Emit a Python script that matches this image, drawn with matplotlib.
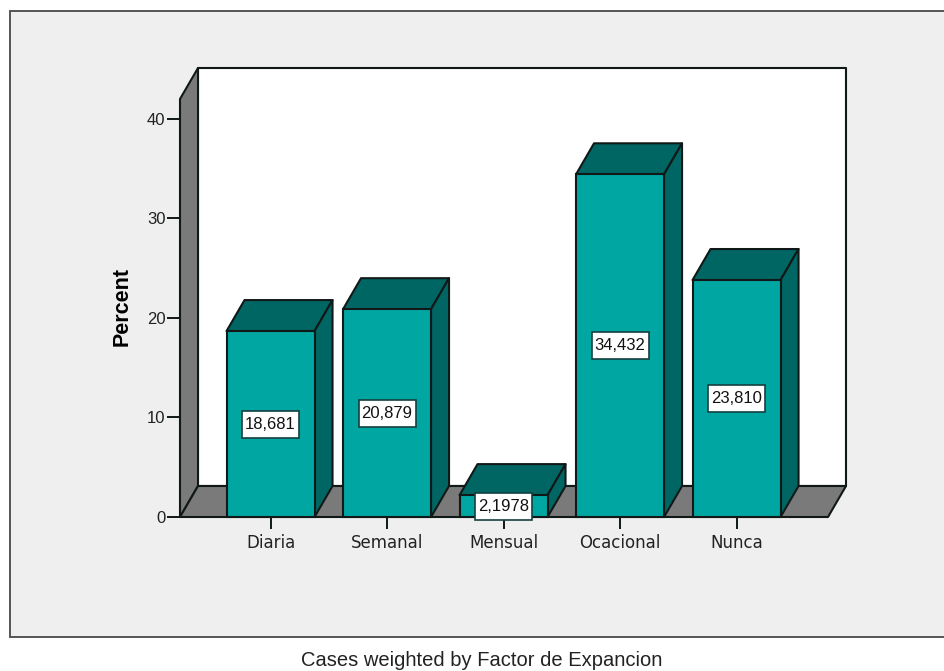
import matplotlib
matplotlib.use('Agg')
import matplotlib.pyplot as plt
from matplotlib.patches import Polygon, Rectangle

categories = ['Diaria', 'Semanal', 'Mensual', 'Ocacional', 'Nunca']
percents = [18.681, 20.879, 2.1978, 34.432, 23.810]
value_labels = ['18,681', '20,879', '2,1978', '34,432', '23,810']
y_ticks = [0, 10, 20, 30, 40]

W, H = 945, 671
FACE = '#00a6a2'
DARK = '#006663'
GREY = '#7a7a7a'
EDGE = '#101818'

plt.rcParams['font.family'] = ['Liberation Sans', 'DejaVu Sans']
fig = plt.figure(figsize=(W / 100, H / 100), dpi=100, facecolor='white')

# chart frame, kept behind the axes
fig.add_artist(Rectangle((10 / W, 1 - 637 / H), 940 / W, 626 / H,
                         transform=fig.transFigure, facecolor='#efefef',
                         edgecolor='#555555', linewidth=1.4, zorder=-1))

# front plane of the 3d box: 180..828 px wide, 99..517 px tall
ax = fig.add_axes([180 / W, 1 - 517 / H, 648 / W, 418 / H])
ax.set_xlim(-0.777, 4.785)
ax.set_ylim(0, 42)
ax.patch.set_visible(False)
for s in ax.spines.values():
    s.set_visible(False)

# depth of the box, in data units
dx = 18 / 116.5
dy = 31 / 9.95
x0, x1 = ax.get_xlim()
y0, y1 = ax.get_ylim()


def poly(pts, color, z):
    ax.add_patch(Polygon(pts, closed=True, facecolor=color, edgecolor=EDGE,
                         linewidth=1.5, joinstyle='round', zorder=z, clip_on=False))


# back wall, side wall, floor
poly([(x0 + dx, y0 + dy), (x1 + dx, y0 + dy), (x1 + dx, y1 + dy), (x0 + dx, y1 + dy)], 'white', 1)
poly([(x0, y0), (x0 + dx, y0 + dy), (x0 + dx, y1 + dy), (x0, y1)], GREY, 2)
poly([(x0, y0), (x0 + dx, y0 + dy), (x1 + dx, y0 + dy), (x1, y0)], GREY, 2)

bar_w = 88 / 116.5
box_w = 57 / 116.5
box_h = 27 / 9.95
for i, v in enumerate(percents):
    l, r = i - bar_w / 2, i + bar_w / 2
    ax.bar(i, v, width=bar_w, color=FACE, edgecolor=EDGE, linewidth=1.5, zorder=5, clip_on=False)
    poly([(l, v), (l + dx, v + dy), (r + dx, v + dy), (r, v)], DARK, 4)
    poly([(r, 0), (r + dx, dy), (r + dx, v + dy), (r, v)], DARK, 4)
    # value tag in the middle of the bar
    ax.add_patch(Rectangle((i - box_w / 2, v / 2 - box_h / 2), box_w, box_h, facecolor='white',
                           edgecolor='#14403f', linewidth=1.2, zorder=7, clip_on=False))
    ax.text(i, v / 2, value_labels[i], ha='center', va='center', fontsize=12, color='#111111',
            zorder=8, clip_on=False)

ax.set_xticks(range(len(categories)))
ax.set_xticklabels(categories, family=['DejaVu Sans'], fontsize=12, color='#222222')
ax.set_yticks(y_ticks)
ax.tick_params(axis='x', length=8.5, width=1.4, color=EDGE, pad=4)
ax.tick_params(axis='y', length=9.5, width=1.4, color=EDGE, pad=1, labelsize=12, labelcolor='#222222')

fig.text(122 / W, 1 - 307 / H, 'Percent', rotation=90, ha='center', va='center',
         fontsize=15.5, fontweight='bold', color='black')
fig.text(482 / W, 1 - 660 / H, 'Cases weighted by Factor de Expancion', ha='center', va='center',
         fontsize=14.5, color='#222222')

plt.savefig('out.png', dpi=100)
